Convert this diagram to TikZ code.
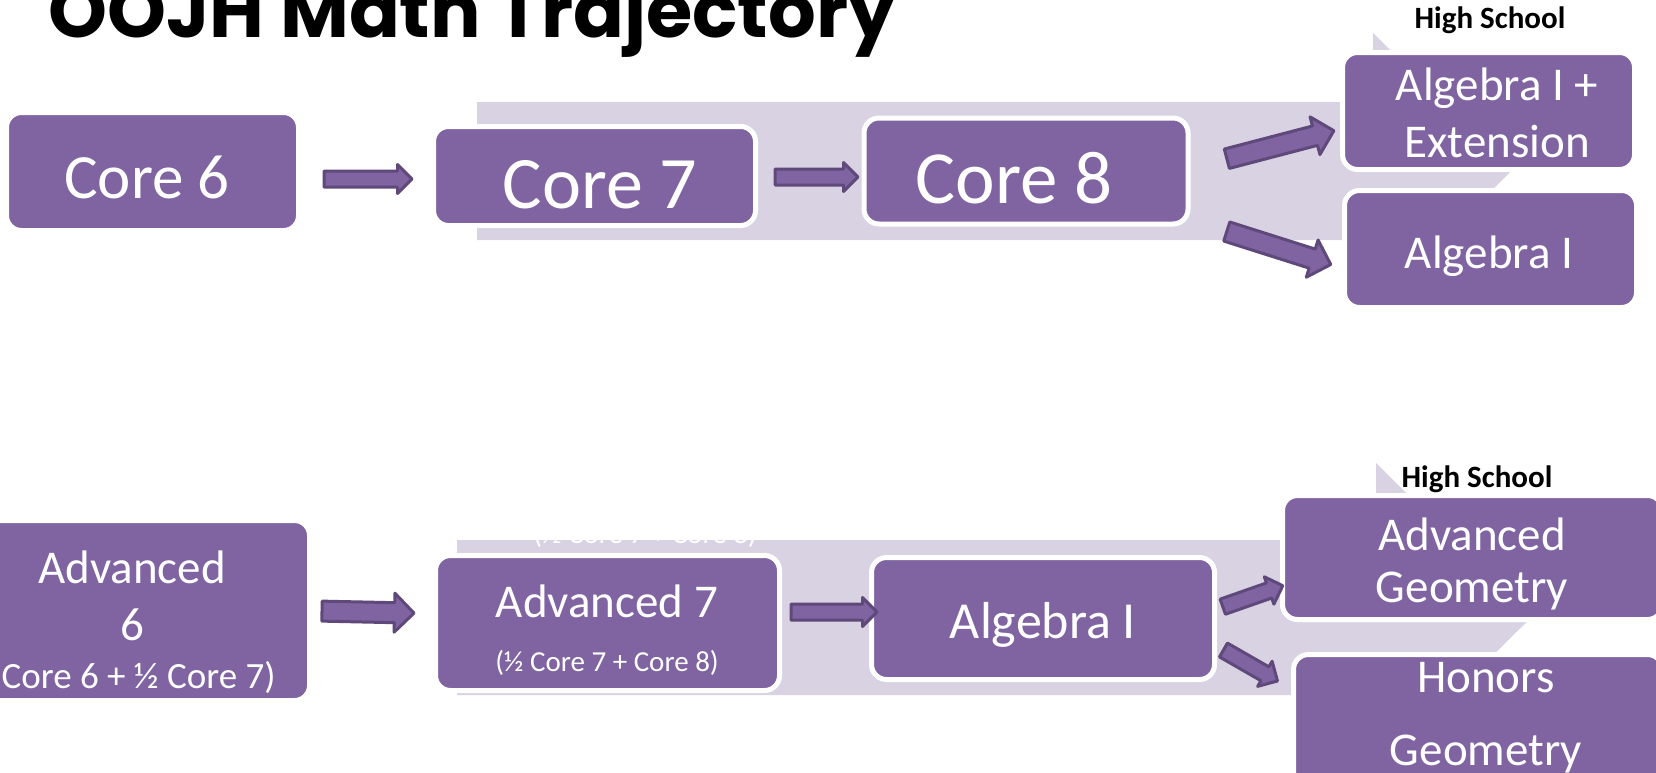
\documentclass[tikz,border=0pt]{standalone}
\usepackage{fontspec}
\setmainfont{Carlito}
\newfontfamily\titlefont{Poppins}
\usetikzlibrary{calc}
\usetikzlibrary{shapes.arrows}
\definecolor{Plum}{RGB}{128,100,162}
\definecolor{PlumDark}{RGB}{95,73,122}
\definecolor{Lilac}{RGB}{216,210,226}

\newcommand{\blockarrow}[3][thin]{%
  \path let \p1=($(#3)-(#2)$), \n1={atan2(\y1,\x1)}, \n2={veclen(\x1,\y1)} in
    node[#1arr, rotate=\n1, minimum height=\n2] at ($(#2)!0.5!(#3)$) {};}

\begin{document}
\begin{tikzpicture}[x=1pt, y=-1pt]
    \tikzset{ box/.style    ={draw=white, line width=5pt, fill=Plum, rounded corners=15pt, inner sep=0pt} }
    \tikzset{ lbl/.style    ={text=white, anchor=base, inner sep=0pt, align=center} }
    \tikzset{ hs/.style     ={text=black, anchor=base, inner sep=0pt, font=\bfseries\fontsize{31}{37}\selectfont} }
    \tikzset{ thinarr/.style={single arrow, draw=PlumDark, fill=Plum, line width=3pt, line join=round, inner xsep=0pt, inner ysep=6.5pt, single arrow head extend=6.5pt, single arrow tip angle=90} }
    \tikzset{ fatarr/.style ={thinarr, inner ysep=8.5pt, single arrow head extend=9.5pt} }

    \useasboundingbox (0,0) rectangle (1656,772);
    \clip (0,0) rectangle (1656,772);
    \fill[white] (0,0) rectangle (1656,772);

    % background process arrows
    \fill[Lilac] (477,102) -- (1373,102) -- (1373,33) -- (1511,171) -- (1373,309) -- (1373,240) -- (477,240) -- cycle;
    \fill[Lilac] (457,540) -- (1376,540) -- (1376,463) -- (1531,617.5) -- (1376,772) -- (1376,695) -- (457,695) -- cycle;
    \node[lbl, font=\fontsize{29}{35}\selectfont] (ghost) at (645,543) {(½ Core 7 + Core 8)};

    \node[anchor=base west, inner sep=0pt, font=\titlefont\bfseries\fontsize{75}{90}\selectfont] (title) at (48,37) {OOJH Math Trajectory};

    % core track
    \node[box, minimum width=292pt, minimum height=118pt] (core6)  at (152.5,171.5) {};
    \node[box, minimum width=322pt, minimum height=99pt]  (core7)  at (594.5,176)   {};
    \node[box, minimum width=324pt, minimum height=106pt] (core8)  at (1026,171)    {};
    \node[box, minimum width=292pt, minimum height=117pt] (algext) at (1488.5,111)  {};
    \node[box, minimum width=292pt, minimum height=117pt] (algone) at (1490.5,249)  {};

    \node[lbl, font=\fontsize{63}{76}\selectfont] (core6t)  at (147,198)  {Core 6};
    \node[lbl, font=\fontsize{74}{89}\selectfont] (core7t)  at (600,208)  {Core 7};
    \node[lbl, font=\fontsize{75}{90}\selectfont] (core8t)  at (1014,203) {Core 8};
    \node[lbl, font=\fontsize{47}{57}\selectfont] (algextt) at (1497,157) {Algebra I +\\Extension};
    \node[lbl, font=\fontsize{47}{57}\selectfont] (algonet) at (1489,268) {Algebra I};
    \node[hs] (hs1) at (1490,28) {High School};

    % advanced track
    \node[box, minimum width=357pt, minimum height=180pt] (adv6)   at (131,610.5)   {};
    \node[box, minimum width=344pt, minimum height=135pt] (adv7)   at (607.5,623)   {};
    \node[box, minimum width=343pt, minimum height=122pt] (algtwo) at (1043,618.5)  {};
    \node[box, minimum width=380pt, minimum height=124pt] (advgeo) at (1472.5,557.5) {};
    \node[box, minimum width=369pt, minimum height=147pt] (hongeo) at (1478,728)    {};

    \node[lbl, font=\fontsize{47}{57}\selectfont] (adv6t)   at (132,640)  {Advanced\\6};
    \node[lbl, font=\fontsize{37}{44}\selectfont] (adv6s)   at (133,688)  {(Core 6 + ½ Core 7)};
    \node[lbl, font=\fontsize{47}{57}\selectfont] (adv7t)   at (607,617)  {Advanced 7};
    \node[lbl, font=\fontsize{29}{35}\selectfont] (adv7s)   at (607,671)  {(½ Core 7 + Core 8)};
    \node[lbl, font=\fontsize{52}{62}\selectfont] (algtwot) at (1043,638) {Algebra I};
    \node[lbl, font=\fontsize{47}{52}\selectfont] (advgeot) at (1472,602) {Advanced\\Geometry};
    \node[lbl, font=\fontsize{47}{73}\selectfont] (hongeot) at (1486,765) {Honors\\Geometry};
    \node[hs] (hs2) at (1477,487) {High School};

    % arrows
    \coordinate (c6a) at (320,179);   \coordinate (c7a) at (408,179);
    \coordinate (c7b) at (771,177);   \coordinate (c8b) at (854,177);
    \coordinate (c8u) at (1222,160);  \coordinate (aeu) at (1329,132);
    \coordinate (c8d) at (1222,230);  \coordinate (a1d) at (1326,263);
    \coordinate (v6a) at (317,611);   \coordinate (v7a) at (409,613);
    \coordinate (v7b) at (787,612);   \coordinate (a2b) at (873,612);
    \coordinate (a2u) at (1219,608);  \coordinate (agu) at (1279,587);
    \coordinate (a2d) at (1220,648);  \coordinate (hgd) at (1274,679);

    \blockarrow{c6a}{c7a}
    \blockarrow{c7b}{c8b}
    \blockarrow[fat]{c8u}{aeu}
    \blockarrow[fat]{c8d}{a1d}
    \blockarrow[fat]{v6a}{v7a}
    \blockarrow{v7b}{a2b}
    \blockarrow{a2u}{agu}
    \blockarrow{a2d}{hgd}
\end{tikzpicture}
\end{document}
